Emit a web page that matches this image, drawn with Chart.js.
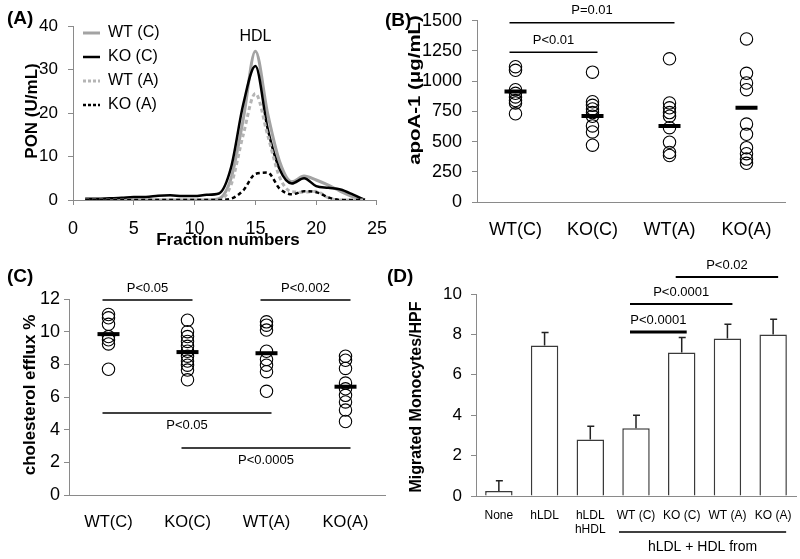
<!DOCTYPE html>
<html>
<head>
<meta charset="utf-8">
<script src="https://cdn.jsdelivr.net/npm/chart.js@4.4.1/dist/chart.umd.min.js"></script>
<style>
  body { margin: 0; background: #fff; }
  #wrap { position: relative; width: 800px; height: 559px; overflow: hidden;
          font-family: Arial, "Liberation Sans", sans-serif; }
  #wrap canvas { position: absolute; }
  .tag { position: absolute; font-weight: bold; font-size: 19px; line-height: 19px; }
</style>
</head>
<body>
<div id="wrap">
  <canvas id="chart-a" width="400" height="280" style="left:0;top:0"></canvas>
  <canvas id="chart-b" width="400" height="280" style="left:400px;top:0"></canvas>
  <canvas id="chart-c" width="400" height="279" style="left:0;top:280px"></canvas>
  <canvas id="chart-d" width="400" height="309" style="left:400px;top:250px"></canvas>
  <div class="tag" style="left:7px;top:8px">(A)</div>
  <div class="tag" style="left:385px;top:10px">(B)</div>
  <div class="tag" style="left:7px;top:266px">(C)</div>
  <div class="tag" style="left:387px;top:266px">(D)</div>
</div>
<script>
/* Four-panel PON / apoA-1 / efflux / monocyte migration figure */

var FONT = 'Arial, "Liberation Sans", sans-serif';
var AXIS_GRAY = '#8a8a8a';

/* (A) PON activity across FPLC fractions */
var fractions = [1, 2, 3, 4, 5, 6, 7, 8, 9, 10, 11, 12, 13, 14, 15, 16, 17, 18, 19, 20, 21, 22, 23, 24];
var ponWTC = [0, 0, 0, 0, 0, 0, 0, 0, 0, 0, 0, 0.3, 5, 18.5, 34.2, 20, 8.8, 4.2, 5.5, 4.6, 3.4, 2, 0.8, 0];
var ponKOC = [0.3, 0.3, 0.4, 0.5, 0.7, 0.7, 1.0, 1.1, 0.9, 0.9, 1.2, 1.5, 7.5, 22, 30.8, 16.5, 7, 3.8, 5.0, 3.2, 2.8, 2.4, 1.3, 0];
var ponWTA = [0, 0, 0, 0, 0, 0, 0, 0, 0, 0, 0, 0, 3.5, 15, 24.5, 15, 5.2, 1.9, 1.8, 2.0, 0.5, 0, 0, 0];
var ponKOA = [0, 0, 0, 0, 0, 0, 0, 0, 0, 0, 0, 0, 0.3, 2.2, 6.0, 6.3, 2.6, 1.3, 2.0, 1.8, 0.6, 0, 0, 0];

/* (B) and (C) share the four groups */
var groups = ['WT(C)', 'KO(C)', 'WT(A)', 'KO(A)'];

/* (B) apoA-1, ug/mL */
var apoWTC = [1120, 1090, 930, 900, 870, 840, 820, 730];
var apoKOC = [1075, 830, 800, 770, 740, 710, 630, 580, 470];
var apoWTA = [1185, 820, 780, 740, 710, 615, 495, 410, 385];
var apoKOA = [1350, 1065, 985, 930, 645, 560, 450, 400, 355, 320];
var apoMeans = [915, 712, 630, 780];
var apoBrackets = [
  { from: 0, to: 1, at: 1240, text: 'P<0.01', side: 'above', width: 1.5 },
  { from: 0, to: 2, at: 1484, text: 'P=0.01', side: 'above', width: 1.5 }
];

/* (C) cholesterol efflux, % */
var effWTC = [11.05, 10.85, 10.45, 9.7, 9.5, 9.25, 7.7];
var effKOC = [10.7, 10.0, 9.7, 9.4, 9.1, 8.8, 8.5, 8.2, 7.95, 7.65, 7.05];
var effWTA = [10.6, 10.4, 10.1, 8.8, 8.3, 7.95, 7.55, 6.35];
var effKOA = [8.5, 8.25, 7.75, 6.85, 6.5, 6.1, 5.7, 5.2, 4.5];
var effMeans = [9.85, 8.75, 8.68, 6.63];
var effBrackets = [
  { from: 0, to: 1, at: 11.94, text: 'P<0.05', side: 'above', width: 1.5 },
  { from: 2, to: 3, at: 11.94, text: 'P<0.002', side: 'above', width: 1.5 },
  { from: 0, to: 2, at: 5.02, text: 'P<0.05', side: 'below', width: 1.5 },
  { from: 1, to: 3, at: 2.88, text: 'P<0.0005', side: 'below', width: 1.5 }
];

/* (D) migrated monocytes per HPF */
var migLabels = ['None', 'hLDL', ['hLDL', 'hHDL'], 'WT (C)', 'KO (C)', 'WT (A)', 'KO (A)'];
var migMeans = [0.25, 7.45, 2.8, 3.35, 7.1, 7.8, 8.0];
var migErr = [0.5, 0.65, 0.65, 0.65, 0.75, 0.7, 0.75];
var migBrackets = [
  { from: 3, to: 4, at: 8.12, text: 'P<0.0001', side: 'above', width: 3 },
  { from: 3, to: 5, at: 9.5, text: 'P<0.0001', side: 'above', width: 2 },
  { from: 4, to: 6, at: 10.84, text: 'P<0.02', side: 'above', width: 2 }
];

function font(size, bold) {
  return (bold ? 'bold ' : '') + size + 'px ' + FONT;
}

function drawText(ctx, text, x, y, f, rotate, stretch) {
  ctx.save();
  ctx.translate(x, y);
  if (rotate) ctx.rotate(-Math.PI / 2);
  if (stretch) ctx.scale(stretch, 1);
  ctx.font = f;
  ctx.fillStyle = '#000';
  ctx.textAlign = 'center';
  ctx.textBaseline = 'middle';
  ctx.fillText(text, 0, 0);
  ctx.restore();
}

function drawBrackets(chart, list) {
  var ctx = chart.ctx;
  var xs = chart.scales.x, ys = chart.scales.y;
  list.forEach(function(b) {
    var x1 = xs.getPixelForValue(b.from) - 6;
    var x2 = xs.getPixelForValue(b.to) + 5;
    var y = ys.getPixelForValue(b.at);
    ctx.save();
    ctx.strokeStyle = '#000';
    ctx.lineWidth = b.width;
    ctx.beginPath();
    ctx.moveTo(x1, y);
    ctx.lineTo(x2, y);
    ctx.stroke();
    ctx.restore();
    drawText(ctx, b.text, (x1 + x2) / 2, y + (b.side === 'above' ? -12 : 12), font(13));
  });
}

function overlay(cfg) {
  return {
    id: 'overlay',
    afterDraw: function(chart) {
      var ctx = chart.ctx;
      var t = cfg.yTitle;
      if (t) drawText(ctx, t.text, t.x, t.y, font(t.size, true), true, t.stretch);
      if (cfg.xTitle) drawText(ctx, cfg.xTitle.text, cfg.xTitle.x, cfg.xTitle.y, font(cfg.xTitle.size, true), false);
      if (cfg.brackets) drawBrackets(chart, cfg.brackets);
      if (cfg.extra) cfg.extra(chart);
    }
  };
}

function yAxis(min, max, step, size, pad, width) {
  return {
    min: min, max: max,
    ticks: {
      stepSize: step, color: '#000', font: { size: size, family: FONT }, padding: pad,
      callback: function(v) { return String(v); }
    },
    grid: { drawOnChartArea: false, tickLength: 5, color: AXIS_GRAY },
    border: { color: AXIS_GRAY, width: 1 },
    afterFit: function(s) { s.width = width; }
  };
}

function categoryAxis(labels, size, pad, height) {
  return {
    type: 'category', labels: labels, offset: true,
    ticks: { color: '#000', font: { size: size, family: FONT }, padding: pad, maxRotation: 0, autoSkip: false },
    grid: { display: false },
    border: { color: AXIS_GRAY, width: 1 },
    afterFit: function(s) { s.height = height; }
  };
}

function baseOptions(padding, scales) {
  return {
    responsive: false,
    animation: false,
    events: [],
    layout: { padding: padding },
    scales: scales,
    plugins: { legend: { display: false }, tooltip: { enabled: false } }
  };
}

/* ---------- (A) ---------- */
function ponSeries(label, values, color, width, dash) {
  return {
    label: label,
    data: fractions.map(function(f, i) { return { x: f, y: values[i] }; }),
    borderColor: color,
    borderWidth: width,
    borderDash: dash,
    pointRadius: 0,
    fill: false,
    cubicInterpolationMode: 'monotone'
  };
}

var ponSets = [
  ponSeries('KO (A)', ponKOA, '#000', 2.5, [4, 3]),
  ponSeries('WT (A)', ponWTA, '#b5b5b5', 3, [4, 3]),
  ponSeries('KO (C)', ponKOC, '#000', 2.5, []),
  ponSeries('WT (C)', ponWTC, '#a3a3a3', 3, [])
];
var ponLegendOrder = [3, 2, 1, 0];

var optsA = baseOptions({ left: 0, top: 26, right: 17, bottom: 0 }, {
  x: {
    type: 'linear', min: 0, max: 25,
    ticks: { stepSize: 5, color: '#000', font: { size: 18, family: FONT }, padding: 13, maxRotation: 0 },
    grid: { drawOnChartArea: false, tickLength: 5, color: AXIS_GRAY },
    border: { color: AXIS_GRAY, width: 1 },
    afterFit: function(s) { s.height = 80; }
  },
  y: yAxis(0, 40, 10, 17, 10, 73)
});

new Chart(document.getElementById('chart-a').getContext('2d'), {
  type: 'line',
  data: { datasets: ponSets },
  options: optsA,
  plugins: [overlay({
    yTitle: { text: 'PON (U/mL)', x: 32, y: 111, size: 17 },
    xTitle: { text: 'Fraction numbers', x: 228, y: 240, size: 17 },
    extra: function(chart) {
      var ctx = chart.ctx;
      drawText(ctx, 'HDL', chart.scales.x.getPixelForValue(15), 37, font(16));
      ponLegendOrder.forEach(function(k, row) {
        var ds = ponSets[k];
        var y = 33 + row * 24;
        ctx.save();
        ctx.strokeStyle = ds.borderColor;
        ctx.lineWidth = ds.borderWidth;
        ctx.setLineDash(ds.borderDash.length ? [3, 2] : []);
        ctx.beginPath();
        ctx.moveTo(83, y);
        ctx.lineTo(100, y);
        ctx.stroke();
        ctx.restore();
        ctx.save();
        ctx.font = font(16);
        ctx.fillStyle = '#000';
        ctx.textBaseline = 'middle';
        ctx.fillText(ds.label, 108, y);
        ctx.restore();
      });
    }
  })]
});

/* ---------- (B) and (C) dot plots ---------- */
function dotSets(lists, means) {
  var circles = [];
  lists.forEach(function(vals, i) {
    vals.forEach(function(v) { circles.push({ x: groups[i], y: v }); });
  });
  return [
    {
      data: means.map(function(m, i) { return { x: groups[i], y: m }; }),
      pointStyle: 'line', pointRadius: 11, pointBorderWidth: 4,
      pointBorderColor: '#000', borderColor: '#000', borderWidth: 4
    },
    {
      data: circles,
      pointStyle: 'circle', pointRadius: 6.2, pointBorderWidth: 1.1,
      pointBorderColor: '#000', pointBackgroundColor: 'rgba(255,255,255,0)',
      borderColor: '#000', backgroundColor: 'rgba(255,255,255,0)'
    }
  ];
}

new Chart(document.getElementById('chart-b').getContext('2d'), {
  type: 'scatter',
  data: { datasets: dotSets([apoWTC, apoKOC, apoWTA, apoKOA], apoMeans) },
  options: baseOptions({ left: 0, top: 19, right: 12, bottom: 0 }, {
    x: categoryAxis(groups, 18, 9, 78),
    y: yAxis(0, 1500, 250, 18, 10, 77)
  }),
  plugins: [overlay({
    yTitle: { text: 'apoA-1 (\u03bcg/mL)', x: 15, y: 90, size: 17, stretch: 1.2 },
    brackets: apoBrackets
  })]
});

new Chart(document.getElementById('chart-c').getContext('2d'), {
  type: 'scatter',
  data: { datasets: dotSets([effWTC, effKOC, effWTA, effKOA], effMeans) },
  options: baseOptions({ left: 0, top: 19, right: 12, bottom: 0 }, {
    x: categoryAxis(groups, 16.5, 10, 64),
    y: yAxis(0, 12, 2, 18, 4, 69)
  }),
  plugins: [overlay({
    yTitle: { text: 'cholesterol efflux %', x: 30, y: 115, size: 17 },
    brackets: effBrackets
  })]
});

/* ---------- (D) ---------- */
new Chart(document.getElementById('chart-d').getContext('2d'), {
  type: 'bar',
  data: {
    labels: migLabels,
    datasets: [{
      data: migMeans,
      backgroundColor: '#fff',
      borderColor: '#3a3a3a',
      borderWidth: 1.5,
      barPercentage: 0.6,
      categoryPercentage: 1
    }]
  },
  options: baseOptions({ left: 0, top: 44, right: 4, bottom: 0 }, {
    x: categoryAxis(migLabels, 12, 4, 63),
    y: yAxis(0, 10, 2, 17, 9, 76)
  }),
  plugins: [overlay({
    yTitle: { text: 'Migrated Monocytes/HPF', x: 17, y: 147, size: 16 },
    brackets: migBrackets,
    extra: function(chart) {
      var ctx = chart.ctx;
      var xs = chart.scales.x, ys = chart.scales.y;
      ctx.save();
      ctx.strokeStyle = '#222';
      ctx.lineWidth = 1.5;
      migMeans.forEach(function(m, i) {
        var x = xs.getPixelForValue(i);
        var y0 = ys.getPixelForValue(m);
        var y1 = ys.getPixelForValue(m + migErr[i]);
        ctx.beginPath();
        ctx.moveTo(x, y0);
        ctx.lineTo(x, y1);
        ctx.moveTo(x - 3, y1);
        ctx.lineTo(x + 4, y1);
        ctx.stroke();
      });
      ctx.restore();
      var x1 = xs.getPixelForValue(3) - 17;
      var x2 = xs.getPixelForValue(6) + 13;
      ctx.save();
      ctx.strokeStyle = '#000';
      ctx.lineWidth = 1.5;
      ctx.beginPath();
      ctx.moveTo(x1, 282);
      ctx.lineTo(x2, 282);
      ctx.stroke();
      ctx.restore();
      drawText(ctx, 'hLDL + HDL from', (x1 + x2) / 2, 297, font(14));
    }
  })]
});
</script>
</body>
</html>
